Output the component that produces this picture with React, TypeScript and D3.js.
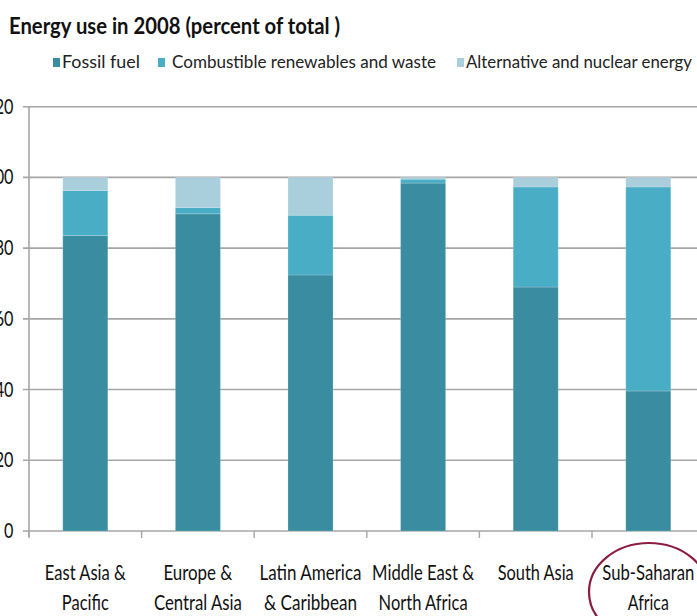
import React from "react";
import * as d3 from "d3";

const regions = [
  "East Asia & Pacific",
  "Europe & Central Asia",
  "Latin America & Caribbean",
  "Middle East & North Africa",
  "South Asia",
  "Sub-Saharan Africa",
];
const regionLines = [
  ["East Asia &", "Pacific"],
  ["Europe &", "Central Asia"],
  ["Latin America", "& Caribbean"],
  ["Middle East &", "North Africa"],
  ["South Asia"],
  ["Sub-Saharan", "Africa"],
];
const fossilFuel = [83.6, 89.7, 72.4, 98.4, 69.0, 39.6];
const combustibleRenewables = [12.7, 1.8, 16.9, 1.1, 28.3, 57.7];
const alternativeNuclear = [3.7, 8.5, 10.7, 0.5, 2.7, 2.7];
const seriesNames = [
  "Fossil fuel",
  "Combustible renewables and waste",
  "Alternative and nuclear energy",
];
const seriesColors = ["#3a8ca1", "#4aadc6", "#a9cedc"];
const yTicks = [0, 20, 40, 60, 80, 100, 120];

// rendered widths of each category label line (px)
const labelLineWidths = [
  [81, 47],
  [69, 88],
  [102, 93],
  [102, 89],
  [76],
  [92, 41],
];

const FONT = "Lato, 'Open Sans', sans-serif";
const DIGIT_W = 9.4;

export default function App() {
  const width = 697;
  const height = 616;
  const x0 = 29;
  const step = 112.6;

  const x = d3
    .scaleBand<string>()
    .domain(regions)
    .range([x0, x0 + step * regions.length])
    .paddingInner(0.6)
    .paddingOuter(0.3);
  const y = d3.scaleLinear().domain([0, 120]).range([531, 106.7]);

  const table = regions.map((r, i) => ({
    region: r,
    fossil: fossilFuel[i],
    comb: combustibleRenewables[i],
    alt: alternativeNuclear[i],
  }));
  const stack = d3.stack<any>().keys(["fossil", "comb", "alt"]);
  const layers = stack(table);

  const legendItems = [
    { sx: 53, tx: 62, tw: 78 },
    { sx: 158, tx: 172, tw: 264 },
    { sx: 457, tx: 466, tw: 226 },
  ];

  const bandEdges = d3.range(regions.length + 1).map((i) => x0 + i * step);

  return (
    <svg
      width={width}
      height={height}
      style={{ position: "absolute", left: 0, top: 0, display: "block", background: "#fff" }}
    >
      <text
        x={9}
        y={34}
        fontFamily={FONT}
        fontWeight="bold"
        fontSize={23}
        fill="#111"
        textLength={331}
        lengthAdjust="spacingAndGlyphs"
      >
        Energy use in 2008 (percent of total )
      </text>

      {legendItems.map((l, i) => (
        <g key={i}>
          <rect x={l.sx} y={58} width={7} height={9} fill={seriesColors[i]} />
          <text
            x={l.tx}
            y={68}
            fontFamily={FONT}
            fontSize={17.5}
            fill="#222"
            textLength={l.tw}
            lengthAdjust="spacingAndGlyphs"
          >
            {seriesNames[i]}
          </text>
        </g>
      ))}

      {/* gridlines and value labels */}
      {yTicks.map((t) => {
        const label = String(t);
        const w = label.length * DIGIT_W;
        return (
          <g key={t}>
            <line x1={23} x2={width} y1={y(t)} y2={y(t)} stroke="#a6a6a6" strokeWidth={1.6} />
            <text
              x={13.5 - w}
              y={y(t) + 7}
              fontFamily={FONT}
              fontSize={21.5}
              fill="#111"
              textLength={w}
              lengthAdjust="spacingAndGlyphs"
            >
              {label}
            </text>
          </g>
        );
      })}

      {/* axes */}
      <line x1={x0} x2={x0} y1={y(120)} y2={537} stroke="#a6a6a6" strokeWidth={1.6} />
      {bandEdges.map((bx, i) => (
        <line key={i} x1={bx} x2={bx} y1={531} y2={538} stroke="#a6a6a6" strokeWidth={1.4} />
      ))}

      {/* stacked bars */}
      {layers.map((layer, li) => (
        <g key={li} fill={seriesColors[li]}>
          {layer.map((d, i) => (
            <rect
              key={i}
              x={x(regions[i])}
              y={y(d[1])}
              width={x.bandwidth()}
              height={Math.max(0, y(d[0]) - y(d[1]))}
              stroke="#ffffff"
              strokeOpacity={0.18}
              strokeWidth={1}
            />
          ))}
        </g>
      ))}

      {/* category labels */}
      {regionLines.map((lines, i) => {
        const cx = (x(regions[i]) as number) + x.bandwidth() / 2;
        return (
          <g key={i}>
            {lines.map((ln, j) => (
              <text
                key={j}
                x={cx}
                y={580 + j * 30}
                textAnchor="middle"
                fontFamily={FONT}
                fontSize={22}
                fill="#111"
                textLength={labelLineWidths[i][j]}
                lengthAdjust="spacingAndGlyphs"
              >
                {ln}
              </text>
            ))}
          </g>
        );
      })}

      {/* highlight ring */}
      <ellipse
        cx={649}
        cy={592}
        rx={60}
        ry={49}
        fill="none"
        stroke="#8c1d40"
        strokeWidth={2.2}
      />
    </svg>
  );
}
